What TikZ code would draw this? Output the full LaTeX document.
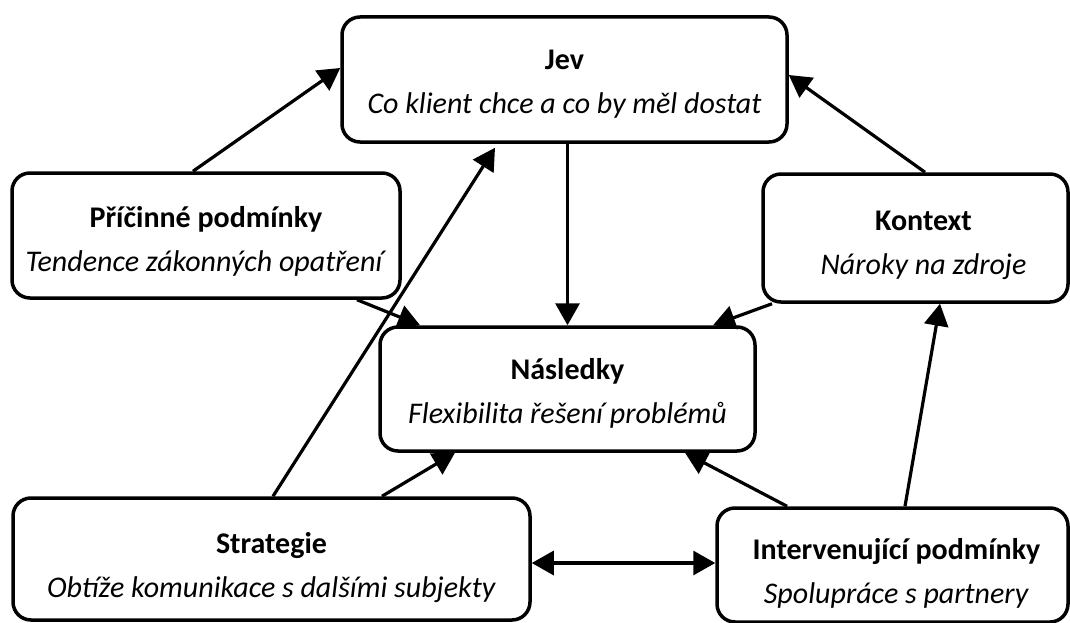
\documentclass[tikz,border=0pt]{standalone}
\usepackage{fontspec}
\setmainfont{Carlito}
\usetikzlibrary{arrows.meta}
\newcommand\twoline[4][0pt]{\raisebox{0pt}[30pt][#2pt]{\begin{tabular}[t]{@{\hspace{#1}}c@{}}\textbf{#3}\\\textit{#4}\end{tabular}}}
\tikzset{
  box/.style={draw=black, line width=3.5pt, rounded corners=18pt, fill=white,
    inner sep=0pt, font=\fontsize{30}{44}\selectfont},
  conn/.style={line width=3.2pt, -{Triangle[length=22pt,width=24pt]}},
  dconn/.style={line width=3.2pt, {Triangle[length=22pt,width=24pt]}-{Triangle[length=22pt,width=24pt]}}
}
\begin{document}
\begin{tikzpicture}[x=1pt,y=-1pt]
\useasboundingbox (0,0) rectangle (1070,623);
\node[box, minimum width=445pt, minimum height=125pt] (jev) at (564.5,79.5)
  {\twoline{49}{Jev}{Co klient chce a co by měl dostat}};
\node[box, minimum width=388pt, minimum height=125pt] (pric) at (206,235.5)
  {\twoline{46}{Příčinné podmínky}{Tendence zákonných opatření}};
\node[box, minimum width=305pt, minimum height=128pt] (kon) at (915.5,238)
  {\twoline[16pt]{46}{Kontext}{Nároky na zdroje}};
\node[box, minimum width=375pt, minimum height=124pt] (nas) at (567.5,389)
  {\twoline{50}{Následky}{Flexibilita řešení problémů}};
\node[box, minimum width=517pt, minimum height=122pt] (str) at (271.5,559)
  {\twoline{42}{Strategie}{Obtíže komunikace s dalšími subjekty}};
\node[box, minimum width=351pt, minimum height=114pt] (int) at (892.5,565)
  {\twoline[8pt]{42}{Intervenující podmínky}{Spolupráce s partnery}};
% connectors
\draw[conn] ([xshift=-13pt]pric.north) -- ([yshift=11.5pt]jev.west);
\draw[conn] ([xshift=9.5pt]kon.north) -- ([yshift=4.5pt]jev.east);
\draw[conn] (jev.south -| nas.north) -- (nas.north);
\draw[conn] ([xshift=151pt]pric.south) -- ([xshift=-147.5pt]nas.north);
\draw[conn] ([xshift=-143.5pt]kon.south) -- ([xshift=145.5pt]nas.north);
\draw[conn] ([xshift=1.5pt]str.north) -- ([xshift=-69.5pt,yshift=-4pt]jev.south);
\draw[conn] ([xshift=110.5pt]str.north) -- ([xshift=-112.5pt]nas.south);
\draw[conn] ([xshift=-105.5pt]int.north) -- ([xshift=117.5pt]nas.south);
\draw[conn] ([xshift=12.5pt]int.north) -- ([xshift=24.5pt]kon.south);
\draw[dconn] ([yshift=-4pt]str.east) -- ([yshift=-4pt]str.east -| int.west);
\end{tikzpicture}
\end{document}
